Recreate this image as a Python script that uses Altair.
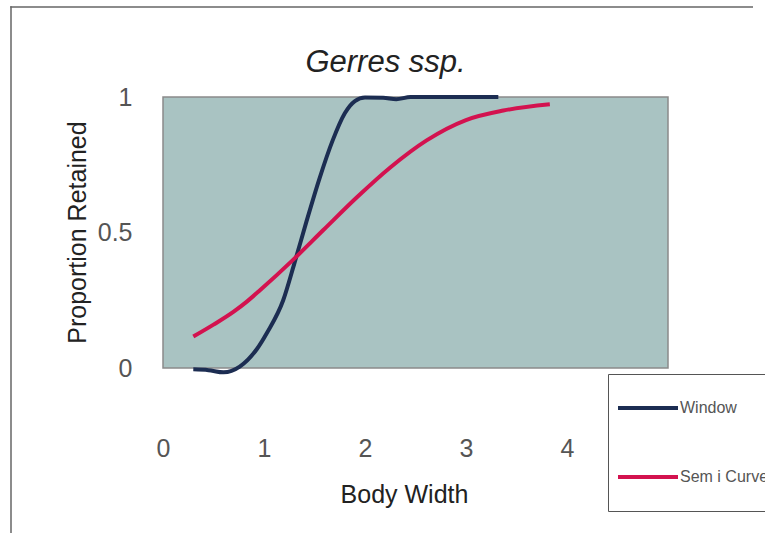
import altair as alt
import pandas as pd

# Selectivity curves: proportion retained against body width
window_x = [0.30, 0.45, 0.60, 0.76, 0.93, 1.03, 1.19, 1.30, 1.42, 1.55, 1.68, 1.80, 1.90, 2.00, 2.18, 2.31, 2.45, 2.80, 3.32]
window_y = [-0.005, -0.008, -0.016, 0.005, 0.07, 0.13, 0.25, 0.385, 0.54, 0.70, 0.84, 0.94, 0.985, 0.998, 0.997, 0.992, 1.0, 1.0, 1.0]

semi_x = [0.30, 0.50, 0.70, 0.83, 0.96, 1.29, 1.59, 1.92, 2.25, 2.61, 3.00, 3.37, 3.83]
semi_y = [0.116, 0.160, 0.208, 0.245, 0.287, 0.40, 0.51, 0.63, 0.74, 0.84, 0.915, 0.95, 0.973]

series_names = ["Window", "Sem i Curve"]
series_colors = ["#1c2d52", "#d3124f"]

x_ticks = [0, 1, 2, 3, 4, 5]
y_ticks = [0, 0.5, 1]

rows = []
for i, (xv, yv) in enumerate(zip(window_x, window_y)):
    rows.append({"series": series_names[0], "order": i, "width": xv, "retained": yv})
for i, (xv, yv) in enumerate(zip(semi_x, semi_y)):
    rows.append({"series": series_names[1], "order": i, "width": xv, "retained": yv})
df = pd.DataFrame(rows)

FONT = "Liberation Sans"

lines = alt.Chart(df).mark_line(strokeWidth=4, interpolate="monotone", clip=False).encode(
    x=alt.X(
        "width:Q",
        scale=alt.Scale(domain=[0, 5], nice=False),
        axis=alt.Axis(
            values=x_ticks,
            title="Body Width",
            grid=False,
            domain=False,
            ticks=False,
            tickSize=0,
            labelFlush=False,
            labelOverlap=False,
            labelFont=FONT,
            labelFontSize=25,
            labelColor="#555555",
            labelBaseline="alphabetic",
            labelPadding=88,
            titleFont=FONT,
            titleFontSize=25,
            titleFontWeight="normal",
            titleColor="#222222",
            titleX=241,
            titleY=134,
            titleAlign="center",
            titleBaseline="alphabetic",
        ),
    ),
    y=alt.Y(
        "retained:Q",
        scale=alt.Scale(domain=[0, 1], nice=False, zero=False),
        axis=alt.Axis(
            values=y_ticks,
            format="~g",
            title="Proportion Retained",
            grid=False,
            domain=False,
            ticks=False,
            tickSize=0,
            labelFlush=False,
            labelOverlap=False,
            labelFont=FONT,
            labelFontSize=25,
            labelColor="#555555",
            labelPadding=31,
            titleFont=FONT,
            titleFontSize=25,
            titleFontWeight="normal",
            titleColor="#222222",
            titleAngle=-90,
            titleX=-78,
            titleY=135,
            titleAlign="center",
            titleBaseline="alphabetic",
        ),
    ),
    color=alt.Color(
        "series:N",
        scale=alt.Scale(domain=series_names, range=series_colors),
        legend=alt.Legend(
            title=None,
            orient="none",
            legendX=445,
            legendY=277,
            symbolType="stroke",
            symbolSize=3600,
            symbolStrokeWidth=4,
            clipHeight=52,
            rowPadding=17,
            padding=8,
            labelOffset=0,
            labelFont=FONT,
            labelFontSize=16,
            labelColor="#555555",
            labelLimit=300,
            fillColor="white",
            strokeColor="#555555",
        ),
    ),
    order="order:Q",
)

# Outer frame around the figure: thin filled bands for the top and left edges
frame_base = alt.Chart(pd.DataFrame({"k": [0]})).mark_rect(fill="#666666", strokeWidth=0)
frame_top = frame_base.encode(
    x=alt.value(-152.75), x2=alt.value(590), y=alt.value(-90.75), y2=alt.value(-89.25)
)
frame_left = frame_base.encode(
    x=alt.value(-152.75), x2=alt.value(-151.25), y=alt.value(-90.75), y2=alt.value(436)
)

chart = alt.layer(frame_top, frame_left, lines).properties(
    width=505,
    height=271,
    title=alt.TitleParams(
        "Gerres ssp.",
        font=FONT,
        fontSize=31,
        fontStyle="italic",
        fontWeight="normal",
        color="#222222",
        anchor="middle",
        frame="group",
        baseline="alphabetic",
        dx=-30,
        offset=-97,
    ),
    autosize=alt.AutoSizeParams(type="none"),
    padding={"left": 163, "top": 97, "right": 97, "bottom": 165},
    background="white",
).configure_view(
    fill="#a9c3c2",
    stroke="#8a8a8a",
    strokeWidth=1.5,
)

chart.save("out.html", embed_options={"renderer": "svg", "actions": False})
